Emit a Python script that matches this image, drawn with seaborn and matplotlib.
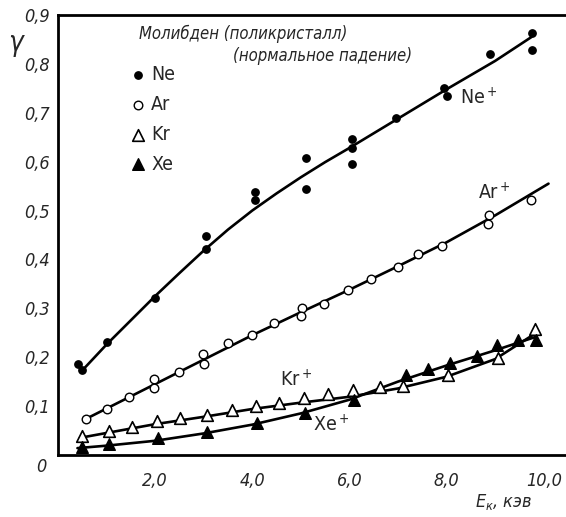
import numpy as np
import pandas as pd
import matplotlib
matplotlib.use('Agg')
import matplotlib.pyplot as plt
import seaborn as sns

ne_x = [0.42, 0.5, 1.0, 2.0, 3.05, 3.05, 4.05, 4.05, 5.1, 5.1, 6.05, 6.05, 6.05, 6.95, 7.95, 8.0, 8.9, 9.75, 9.75]
ne_y = [0.186, 0.173, 0.231, 0.322, 0.447, 0.422, 0.537, 0.522, 0.608, 0.545, 0.647, 0.627, 0.596, 0.69, 0.751, 0.735, 0.82, 0.863, 0.829]

ar_x = [0.57, 1.0, 1.47, 1.98, 1.98, 2.5, 2.99, 3.0, 3.5, 4.0, 4.45, 5.03, 5.0, 5.47, 5.98, 6.45, 7.0, 7.42, 7.91, 8.88, 8.86, 9.73]
ar_y = [0.073, 0.094, 0.118, 0.155, 0.137, 0.169, 0.206, 0.186, 0.229, 0.245, 0.269, 0.300, 0.284, 0.308, 0.338, 0.359, 0.384, 0.412, 0.427, 0.490, 0.473, 0.522]

kr_x = [0.5, 1.04, 1.53, 2.03, 2.52, 3.06, 3.59, 4.08, 4.56, 5.06, 5.55, 6.08, 6.62, 7.1, 8.02, 9.05, 9.83]
kr_y = [0.039, 0.049, 0.057, 0.069, 0.075, 0.082, 0.092, 0.101, 0.106, 0.116, 0.124, 0.133, 0.139, 0.141, 0.163, 0.198, 0.257]

xe_x = [0.5, 1.04, 2.05, 3.06, 4.09, 5.08, 6.1, 7.17, 7.62, 8.08, 8.62, 9.03, 9.48, 9.85]
xe_y = [0.016, 0.022, 0.035, 0.047, 0.065, 0.086, 0.112, 0.164, 0.175, 0.188, 0.202, 0.224, 0.235, 0.235]

# smooth curves drawn through the points
ne_cx = [0.5, 1.0, 2.0, 2.5, 3.0, 3.5, 4.0, 4.5, 5.0, 5.5, 6.0, 7.0, 8.0, 9.0, 9.75]
ne_cy = [0.173, 0.226, 0.325, 0.372, 0.418, 0.461, 0.500, 0.535, 0.568, 0.599, 0.628, 0.688, 0.748, 0.806, 0.855]

ar_cx = [0.6, 1.0, 2.0, 3.0, 4.0, 5.0, 6.0, 7.0, 8.0, 9.0, 10.1]
ar_cy = [0.075, 0.095, 0.145, 0.195, 0.245, 0.292, 0.338, 0.386, 0.435, 0.490, 0.555]

kr_cx = [0.45, 1.0, 2.0, 3.0, 4.0, 5.0, 6.0, 7.0, 8.0, 9.0, 9.85]
kr_cy = [0.035, 0.045, 0.063, 0.078, 0.094, 0.107, 0.119, 0.136, 0.160, 0.196, 0.250]

xe_cx = [0.4, 1.0, 2.0, 3.0, 4.0, 5.0, 6.0, 7.0, 8.0, 9.0, 9.85]
xe_cy = [0.014, 0.019, 0.029, 0.044, 0.062, 0.085, 0.113, 0.150, 0.183, 0.214, 0.242]

x_ticks = [2, 4, 6, 8, 10]
x_ticklabels = ['2,0', '4,0', '6,0', '8,0', '10,0']
y_ticks = [0.1, 0.2, 0.3, 0.4, 0.5, 0.6, 0.7, 0.8, 0.9]
y_ticklabels = ['0,1', '0,2', '0,3', '0,4', '0,5', '0,6', '0,7', '0,8', '0,9']

sns.set_style('white')
plt.rcParams['font.family'] = ['DejaVu Sans']
plt.rcParams['font.style'] = 'italic'
plt.rcParams['font.stretch'] = 'condensed'

fig = plt.figure(figsize=(5.66, 5.17), dpi=100)
ax = fig.add_axes([0.1025, 0.12, 0.8975, 0.851])

# curves
for cx, cy in [(ne_cx, ne_cy), (ar_cx, ar_cy), (kr_cx, kr_cy), (xe_cx, xe_cy)]:
    sns.lineplot(x=cx, y=cy, ax=ax, color='black', linewidth=1.9, sort=False)

# points
h_ne = ax.scatter(ne_x, ne_y, s=28, marker='o', color='black', zorder=3, label='Ne')
h_ar = ax.scatter(ar_x, ar_y, s=38, marker='o', facecolor='white', edgecolor='black', linewidth=1.0, zorder=3, label='Ar')
h_kr = ax.scatter(kr_x, kr_y, s=70, marker='^', facecolor='white', edgecolor='black', linewidth=1.2, zorder=3, label='Kr')
h_xe = ax.scatter(xe_x, xe_y, s=70, marker='^', color='black', zorder=3, label='Xe')

ax.set_xlim(0, 10.46)
ax.set_ylim(0, 0.9)
ax.set_xticks(x_ticks)
ax.set_xticklabels(x_ticklabels)
ax.set_xticks([1, 3, 5, 7, 9], minor=True)
ax.set_yticks(y_ticks)
ax.set_yticklabels(y_ticklabels)
ax.tick_params(axis='both', which='both', direction='in', labelsize=13)
ax.tick_params(axis='x', which='major', length=7, width=1.2, pad=12)
ax.tick_params(axis='x', which='minor', length=5, width=1.0)
ax.tick_params(axis='y', which='major', length=6, width=1.2, pad=6)

for side in ['left', 'bottom', 'top']:
    ax.spines[side].set_linewidth(2.0)
    ax.spines[side].set_color('black')
ax.spines['right'].set_visible(False)

upright = {'family': 'DejaVu Sans', 'style': 'normal', 'stretch': 'condensed', 'size': 14}
leg = ax.legend(handles=[h_ne, h_ar, h_kr, h_xe], loc='upper left', bbox_to_anchor=(0.103, 0.925),
                frameon=False, handletextpad=0.2, labelspacing=0.55, handlelength=1.0, prop=upright)

ax.text(1.66, 0.861, 'Молибден (поликристалл)', fontsize=12, va='center', ha='left')
ax.text(3.61, 0.816, '(нормальное падение)', fontsize=12, va='center', ha='left')

ax.text(8.66, 0.73, 'Ne$^+$', fontdict=upright, ha='center', va='center')
ax.text(8.99, 0.537, 'Ar$^+$', fontdict=upright, ha='center', va='center')
ax.text(4.91, 0.153, 'Kr$^+$', fontdict=upright, ha='center', va='center')
ax.text(5.63, 0.061, 'Xe$^+$', fontdict=upright, ha='center', va='center')

ax.text(-0.34, -0.024, '0', fontsize=13, ha='center', va='center', clip_on=False)
ax.text(-0.88, 0.843, 'γ', fontsize=20, ha='center', va='center', clip_on=False)
fig.text(504 / 566, 1 - 502 / 517, '$E_{\\mathrm{к}}$, кэв', fontsize=13, ha='center', va='center')

fig.savefig('out.png', dpi=100)
